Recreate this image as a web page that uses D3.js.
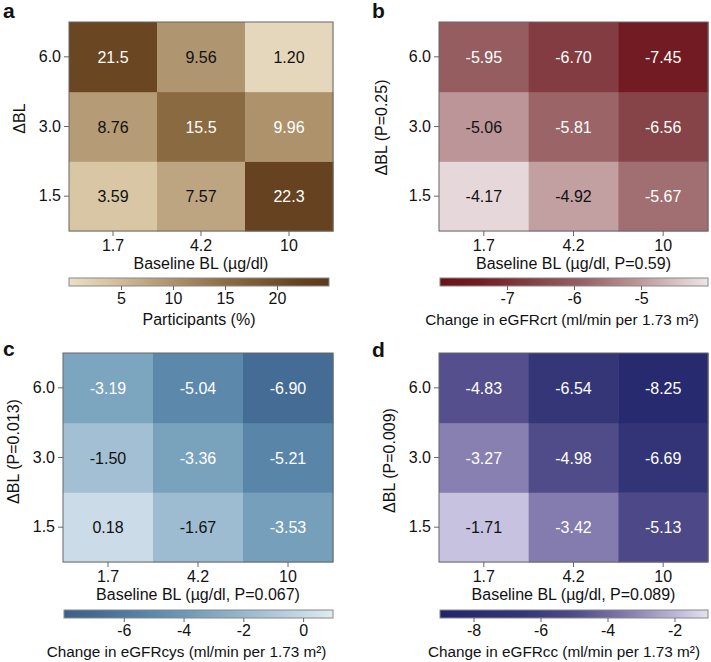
<!DOCTYPE html>
<html>
<head>
<meta charset="utf-8">
<script src="https://cdn.jsdelivr.net/npm/d3@7.9.0/dist/d3.min.js"></script>
<style>
  body { margin: 0; background: #fff; }
  svg { display: block; font-family: 'Liberation Sans', Arial, sans-serif; }
  .tick text { font-size: 16px; fill: #111; }
  .tick line { stroke: #666; }
</style>
</head>
<body>
<svg id="chart" width="711" height="662"></svg>
<script>
// categories
const baselineBL = ['1.7', '4.2', '10'];
const deltaBL = ['1.5', '3.0', '6.0'];

// rows follow deltaBL (1.5, 3.0, 6.0), columns follow baselineBL
const participants = [[3.59, 7.57, 22.3], [8.76, 15.5, 9.96], [21.5, 9.56, 1.20]];
const eGFRcrt = [[-4.17, -4.92, -5.67], [-5.06, -5.81, -6.56], [-5.95, -6.70, -7.45]];
const eGFRcys = [[0.18, -1.67, -3.53], [-1.50, -3.36, -5.21], [-3.19, -5.04, -6.90]];
const eGFRcc = [[-1.71, -3.42, -5.13], [-3.27, -4.98, -6.69], [-4.83, -6.54, -8.25]];

// colour bar ticks
const ticksA = [5, 10, 15, 20];
const ticksB = [-7, -6, -5];
const ticksC = [-6, -4, -2, 0];
const ticksD = [-8, -6, -4, -2];

const loc = d3.formatLocale({decimal: '.', thousands: ',', grouping: [3], currency: ['', ''], minus: '-'});

const panels = [
  {
    id: 'a', values: participants, fmt: loc.format('.3r'), cbFmt: loc.format('d'),
    ylab: 'ΔBL', xlab: 'Baseline BL (µg/dl)', cblab: 'Participants (%)', cbShift: 0, cbSize: 16,
    domain: [0, 25], ticks: ticksA,
    stops: [0, 4, 9, 15.5, 22, 25],
    colors: ['#ece0c6', '#d6c3a0', '#b39974', '#8a6a40', '#674320', '#5b391b'],
    white: v => v > 9.8,
    heat: [69, 333, 22, 231], cb: [69, 329, 278, 286], ylabX: 25, ylabDy: -8, labX: 3, labY: 18
  },
  {
    id: 'b', values: eGFRcrt, fmt: loc.format('.2f'), cbFmt: loc.format('d'),
    ylab: 'ΔBL (P=0.25)', xlab: 'Baseline BL (µg/dl, P=0.59)', cblab: 'Change in eGFRcrt (ml/min per 1.73 m²)', cbShift: -12, cbSize: 15.3,
    domain: [-8, -4], ticks: ticksB,
    stops: [-8, -7.45, -6.6, -5.9, -5.06, -4.17, -4],
    colors: ['#68121a', '#721b22', '#854246', '#975f62', '#bb9598', '#e6d8da', '#efe6e8'],
    white: v => v < -5.4,
    heat: [439, 708, 22, 231], cb: [440, 708, 278, 286], ylabX: 387, ylabDy: 1, labX: 372, labY: 18
  },
  {
    id: 'c', values: eGFRcys, fmt: loc.format('.2f'), cbFmt: loc.format('d'),
    ylab: 'ΔBL (P=0.013)', xlab: 'Baseline BL (µg/dl, P=0.067)', cblab: 'Change in eGFRcys (ml/min per 1.73 m²)', cbShift: -12, cbSize: 15.3,
    domain: [-8, 1], ticks: ticksC,
    stops: [-8, -6.9, -5.1, -3.3, -1.6, 0.18, 1],
    colors: ['#3b5e8a', '#456c95', '#5a87aa', '#7aa3be', '#a0bdd2', '#cbdce8', '#e2ebf2'],
    white: v => v < -2.5,
    heat: [63, 333, 353, 562], cb: [64, 333, 610, 618], ylabX: 19, ylabDy: -6, labX: 3, labY: 356
  },
  {
    id: 'd', values: eGFRcc, fmt: loc.format('.2f'), cbFmt: loc.format('d'),
    ylab: 'ΔBL (P=0.009)', xlab: 'Baseline BL (µg/dl, P=0.089)', cblab: 'Change in eGFRcc (ml/min per 1.73 m²)', cbShift: -10, cbSize: 15.3,
    domain: [-9, -1], ticks: ticksD,
    stops: [-9, -8.25, -6.6, -5.0, -3.35, -1.71, -1],
    colors: ['#22246a', '#282a6f', '#333577', '#4f4a89', '#867db0', '#c6c2e0', '#e4e2f0'],
    white: v => v < -2.5,
    heat: [439, 708, 353, 562], cb: [440, 708, 610, 618], ylabX: 395, ylabDy: 3, labX: 372, labY: 357
  }
];

const svg = d3.select('#chart');
const defs = svg.append('defs');

panels.forEach(p => {
  const [x0, x1, y0, y1] = p.heat;
  const g = svg.append('g');
  const color = d3.scaleLinear().domain(p.stops).range(p.colors).interpolate(d3.interpolateRgb);
  const x = d3.scaleBand().domain(baselineBL).range([x0, x1]);
  const y = d3.scaleBand().domain(deltaBL.slice().reverse()).range([y0, y1]);

  const cells = [];
  p.values.forEach((row, i) => row.forEach((v, j) => cells.push({r: deltaBL[i], c: baselineBL[j], v})));

  g.selectAll('rect.cell').data(cells).join('rect')
    .attr('class', 'cell')
    .attr('x', d => x(d.c)).attr('y', d => y(d.r))
    .attr('width', x.bandwidth() + 0.5).attr('height', y.bandwidth() + 0.5)
    .attr('fill', d => color(d.v));

  g.selectAll('text.val').data(cells).join('text')
    .attr('class', 'val')
    .attr('x', d => x(d.c) + x.bandwidth() / 2)
    .attr('y', d => y(d.r) + y.bandwidth() / 2 + 6)
    .attr('text-anchor', 'middle')
    .attr('font-size', 16)
    .attr('fill', d => p.white(d.v) ? '#fff' : '#111')
    .text(d => p.fmt(d.v));

  g.append('rect')
    .attr('x', x0).attr('y', y0).attr('width', x1 - x0).attr('height', y1 - y0)
    .attr('fill', 'none').attr('stroke', '#666').attr('stroke-width', 1);

  g.append('g').attr('transform', `translate(${x0},0)`)
    .call(d3.axisLeft(y).tickSize(5).tickPadding(3))
    .call(s => s.select('.domain').remove());
  g.append('g').attr('transform', `translate(0,${y1})`)
    .call(d3.axisBottom(x).tickSize(5).tickPadding(4))
    .call(s => s.select('.domain').remove());

  g.append('text')
    .attr('transform', `translate(${p.ylabX},${(y0 + y1) / 2 + p.ylabDy}) rotate(-90)`)
    .attr('text-anchor', 'middle').attr('font-size', 16).attr('fill', '#111')
    .text(p.ylab);
  g.append('text')
    .attr('x', (x0 + x1) / 2).attr('y', y1 + 38)
    .attr('text-anchor', 'middle').attr('font-size', 16).attr('fill', '#111')
    .text(p.xlab);

  // colour bar
  const [c0, c1, cy0, cy1] = p.cb;
  const cbScale = d3.scaleLinear().domain(p.domain).range([c0, c1]);
  const grad = defs.append('linearGradient').attr('id', 'grad-' + p.id)
    .attr('x1', '0%').attr('x2', '100%').attr('y1', '0%').attr('y2', '0%');
  d3.range(0, 1.0001, 0.02).forEach(t => {
    grad.append('stop').attr('offset', (t * 100) + '%')
      .attr('stop-color', color(p.domain[0] + t * (p.domain[1] - p.domain[0])));
  });
  g.append('rect')
    .attr('x', c0).attr('y', cy0).attr('width', c1 - c0).attr('height', cy1 - cy0)
    .attr('fill', `url(#grad-${p.id})`).attr('stroke', '#888').attr('stroke-width', 1);
  g.append('g').attr('transform', `translate(0,${cy1})`)
    .call(d3.axisBottom(cbScale).tickValues(p.ticks).tickFormat(p.cbFmt).tickSize(4).tickPadding(3))
    .call(s => s.select('.domain').remove());
  g.append('text')
    .attr('x', (c0 + c1) / 2 + p.cbShift).attr('y', cy1 + 39)
    .attr('text-anchor', 'middle').attr('font-size', p.cbSize).attr('fill', '#111')
    .text(p.cblab);

  svg.append('text')
    .attr('x', p.labX).attr('y', p.labY)
    .attr('font-size', 21).attr('font-weight', 'bold').attr('fill', '#111')
    .text(p.id);
});
</script>
</body>
</html>
